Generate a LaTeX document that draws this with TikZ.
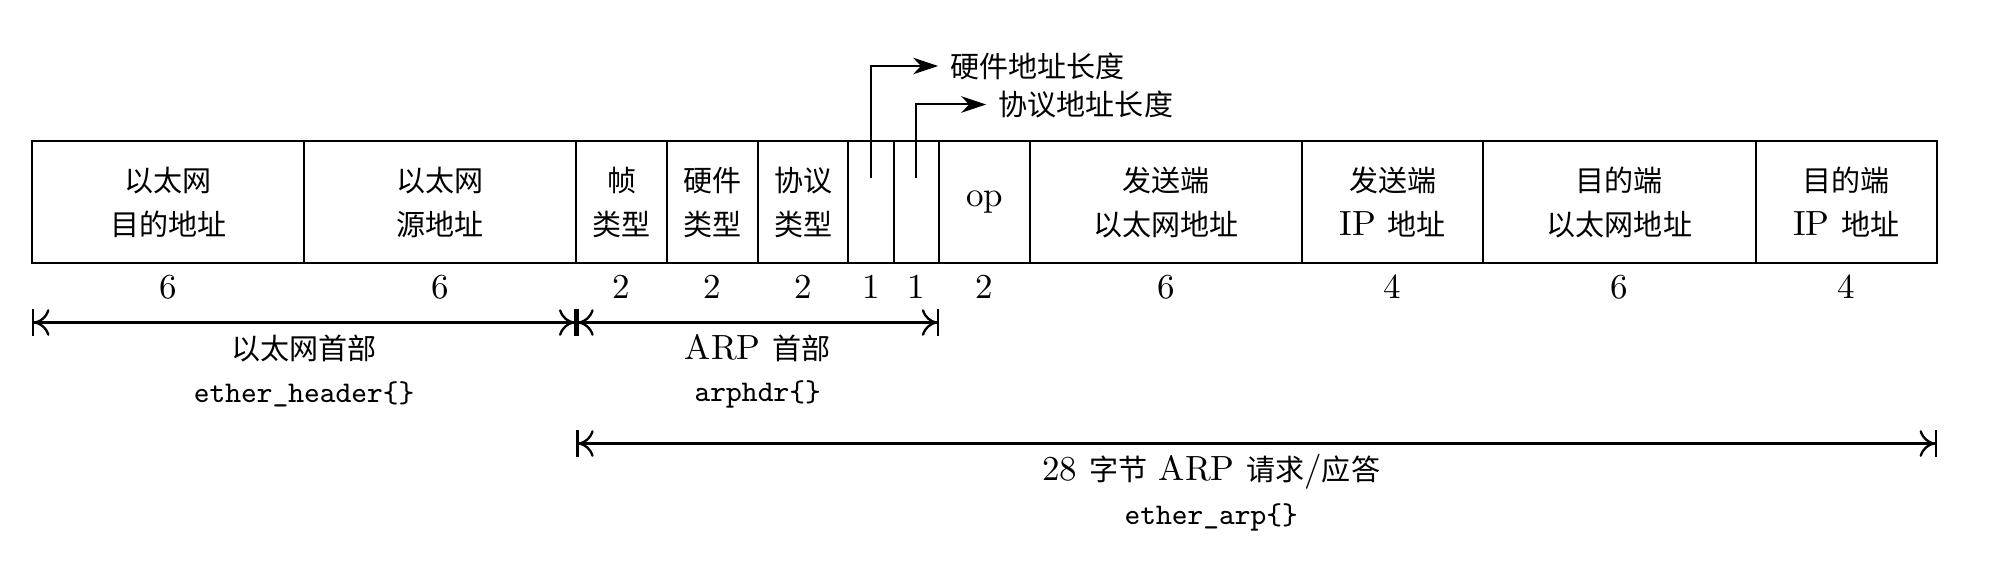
\documentclass[tikz,border=0pt]{standalone}
\usepackage{fontspec}
\newfontfamily\cjkfont{Noto Sans CJK SC}[Scale=0.83]
\newcommand\zhs[1]{{\cjkfont #1}}
\usetikzlibrary{arrows.meta}
\begin{document}
\begin{tikzpicture}[x=13.605pt,y=-0.3pt,
  every node/.style={font=\fontsize{10.5}{13.2}\selectfont},
  field/.style={draw,line width=0.6pt,minimum width=#1*13.605pt,minimum height=36.6pt,inner sep=0pt,align=center,anchor=center},
  num/.style={inner sep=0pt},
  lab/.style={inner sep=0pt},
  code/.style={font=\fontsize{9}{11}\selectfont\ttfamily,inner sep=0pt},
  dim/.style={line width=0.7pt,{Bar[width=8pt]To[length=4.5pt,width=8pt]}-{To[length=4.5pt,width=8pt]Bar[width=8pt]}},
  lead/.style={line width=0.6pt,-{Stealth[length=7.5pt,width=5pt,inset=2.4pt]}}]
\useasboundingbox (-0.7078,0) rectangle (43.70,578);
% fields
\node[field=6] (f1) at (3,202.3) {\zhs{以太网}\\\zhs{目的地址}};
\node[field=6] (f2) at (9,202.3) {\zhs{以太网}\\\zhs{源地址}};
\node[field=2] (f3) at (13,202.3) {\zhs{帧}\\\zhs{类型}};
\node[field=2] (f4) at (15,202.3) {\zhs{硬件}\\\zhs{类型}};
\node[field=2] (f5) at (17,202.3) {\zhs{协议}\\\zhs{类型}};
\node[field=1] (f6) at (18.5,202.3) {};
\node[field=1] (f7) at (19.5,202.3) {};
\node[field=2] (f8) at (21,202.3) {op};
\node[field=6] (f9) at (25,202.3) {\zhs{发送端}\\\zhs{以太网地址}};
\node[field=4] (f10) at (30,202.3) {\zhs{发送端}\\IP \zhs{地址}};
\node[field=6] (f11) at (35,202.3) {\zhs{目的端}\\\zhs{以太网地址}};
\node[field=4] (f12) at (40,202.3) {\zhs{目的端}\\IP \zhs{地址}};
% sizes
\node[num] (s1) at (3,287) {6};
\node[num] (s2) at (9,287) {6};
\node[num] (s3) at (13,287) {2};
\node[num] (s4) at (15,287) {2};
\node[num] (s5) at (17,287) {2};
\node[num] (s6) at (18.5,287) {1};
\node[num] (s7) at (19.5,287) {1};
\node[num] (s8) at (21,287) {2};
\node[num] (s9) at (25,287) {6};
\node[num] (s10) at (30,287) {4};
\node[num] (s11) at (35,287) {6};
\node[num] (s12) at (40,287) {4};
% leaders
\coordinate (hwpt) at (18.5,178.3);
\coordinate (prpt) at (19.5,178.3);
\node[lab,anchor=west] (hwlab) at (20.24,66) {\zhs{硬件地址长度}};
\node[lab,anchor=west] (prlab) at (21.3,104.5) {\zhs{协议地址长度}};
\draw[lead] (hwpt) |- ([xshift=-3.6pt]hwlab.west);
\draw[lead] (prpt) |- ([xshift=-3.6pt]prlab.west);
% dimension lines
\coordinate (d0) at (0,322.5);
\coordinate (d12) at (12,322.5);
\coordinate (d20) at (20,322.5);
\coordinate (e12) at (12,443.5);
\coordinate (e42) at (42,443.5);
\draw[dim] (d0) -- (d12);
\draw[dim] (d12) -- (d20);
\draw[dim] (e12) -- (e42);
\node[lab] (ethlab) at (6,348) {\zhs{以太网首部}};
\node[code] (ethcode) at (6,394) {ether\_header\{\}};
\node[lab] (arplab) at (16,348) {ARP \zhs{首部}};
\node[code] (arpcode) at (16,394) {arphdr\{\}};
\node[lab] (reqlab) at (26,471.5) {28 \zhs{字节} ARP \zhs{请求}/\zhs{应答}};
\node[code] (reqcode) at (26,517) {ether\_arp\{\}};
\end{tikzpicture}
\end{document}
